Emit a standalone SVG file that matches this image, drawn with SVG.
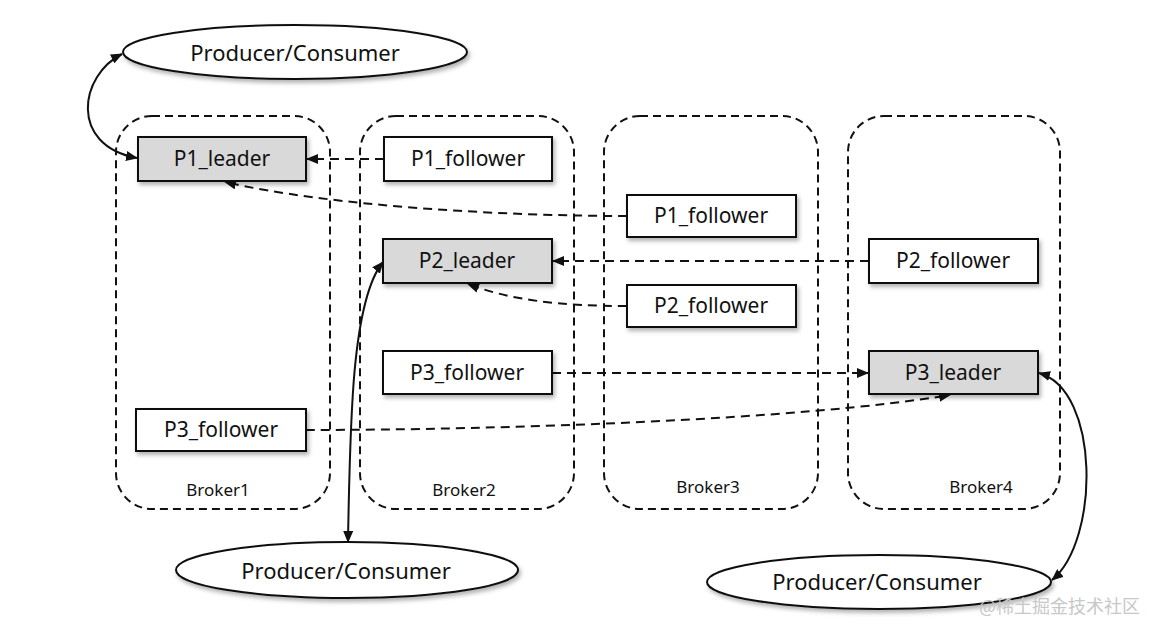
<svg xmlns="http://www.w3.org/2000/svg" width="1158" height="636" viewBox="0 0 1158 636">
<style>
.broker{fill:none;stroke:#111;stroke-width:2;stroke-dasharray:8 5}
.node{stroke:#111;stroke-width:2;filter:url(#sh)}
.leader{fill:#d9d9d9}
.follower{fill:#fff}
.ell{fill:#fff;stroke:#111;stroke-width:2;filter:url(#sh)}
.t{font-family:"Noto Sans","Open Sans",sans-serif;font-size:21px;fill:#111;text-anchor:middle;dominant-baseline:central}
.te{font-size:22px}
.bl{font-family:"Noto Sans","Open Sans",sans-serif;font-size:17px;fill:#111;text-anchor:middle}
.dash{fill:none;stroke:#111;stroke-width:2;stroke-dasharray:9 6}
.solid{fill:none;stroke:#111;stroke-width:2}
.wm{font-family:"Noto Sans CJK SC",sans-serif;font-size:18px;fill:#c8c8c8;text-anchor:end}
</style>
<defs>
<filter id="sh" x="-10%" y="-20%" width="130%" height="160%">
<feDropShadow dx="2" dy="3" stdDeviation="2" flood-color="#000" flood-opacity="0.3"/>
</filter>
<marker id="ah" markerWidth="12" markerHeight="10" refX="11" refY="5" orient="auto-start-reverse" markerUnits="userSpaceOnUse">
<path d="M0,0 L12,5 L0,10 z" fill="#111"/>
</marker>
</defs>
<g id="broker1"><rect class="broker" x="116" y="116" width="214" height="393" rx="36"/><text class="bl" x="218" y="496">Broker1</text></g>
<g id="broker2"><rect class="broker" x="360" y="116" width="214" height="393" rx="36"/><text class="bl" x="464" y="496">Broker2</text></g>
<g id="broker3"><rect class="broker" x="604" y="116" width="214" height="393" rx="36"/><text class="bl" x="708" y="493">Broker3</text></g>
<g id="broker4"><rect class="broker" x="848" y="116" width="212" height="393" rx="36"/><text class="bl" x="981" y="493">Broker4</text></g>

<g id="connectors">
<path class="solid" d="M 122 54 C 80 75, 68 145, 137 158" marker-start="url(#ah)" marker-end="url(#ah)"/>
<path class="dash" d="M 384 159 L 307 159" marker-end="url(#ah)"/>
<path class="dash" d="M 627 216 C 500 216, 330 206, 225 182" marker-end="url(#ah)"/>
<path class="dash" d="M 869 261 L 553 261" marker-end="url(#ah)"/>
<path class="dash" d="M 627 306 C 560 306, 510 300, 468 284" marker-end="url(#ah)"/>
<path class="dash" d="M 552 373 L 868 373" marker-end="url(#ah)"/>
<path class="dash" d="M 306 430 C 500 430, 800 420, 950 395" marker-end="url(#ah)"/>
<path class="solid" d="M 348 542 C 350 420, 352 300, 383 262" marker-start="url(#ah)" marker-end="url(#ah)"/>
<path class="solid" d="M 1039 373 C 1100 390, 1100 540, 1052 580" marker-start="url(#ah)" marker-end="url(#ah)"/>
</g>

<g id="pc_top"><ellipse class="ell" cx="295" cy="52" rx="172" ry="27"/><text class="t te" x="295" y="52">Producer/Consumer</text></g>
<g id="pc_bottom_left"><ellipse class="ell" cx="347" cy="570" rx="171" ry="28"/><text class="t te" x="346" y="570">Producer/Consumer</text></g>
<g id="pc_bottom_right"><ellipse class="ell" cx="879" cy="582" rx="172" ry="27"/><text class="t te" x="877" y="581">Producer/Consumer</text></g>

<g id="p1_leader"><rect class="node leader" x="138" y="137" width="168" height="44"/><text class="t" x="222" y="158">P1_leader</text></g>
<g id="p1_follower_b2"><rect class="node follower" x="384" y="137" width="168" height="44"/><text class="t" x="468" y="158">P1_follower</text></g>
<g id="p1_follower_b3"><rect class="node follower" x="627" y="195" width="169" height="42"/><text class="t" x="711" y="215">P1_follower</text></g>
<g id="p2_leader"><rect class="node leader" x="383" y="239" width="169" height="44"/><text class="t" x="467" y="260">P2_leader</text></g>
<g id="p2_follower_b4"><rect class="node follower" x="869" y="239" width="169" height="44"/><text class="t" x="953" y="260">P2_follower</text></g>
<g id="p2_follower_b3"><rect class="node follower" x="627" y="285" width="169" height="42"/><text class="t" x="711" y="305">P2_follower</text></g>
<g id="p3_follower_b2"><rect class="node follower" x="383" y="351" width="169" height="43"/><text class="t" x="467" y="372">P3_follower</text></g>
<g id="p3_leader"><rect class="node leader" x="869" y="351" width="169" height="43"/><text class="t" x="953" y="372">P3_leader</text></g>
<g id="p3_follower_b1"><rect class="node follower" x="136" y="409" width="170" height="42"/><text class="t" x="221" y="429">P3_follower</text></g>

<text class="wm" x="1140" y="613">@稀土掘金技术社区</text>
</svg>
